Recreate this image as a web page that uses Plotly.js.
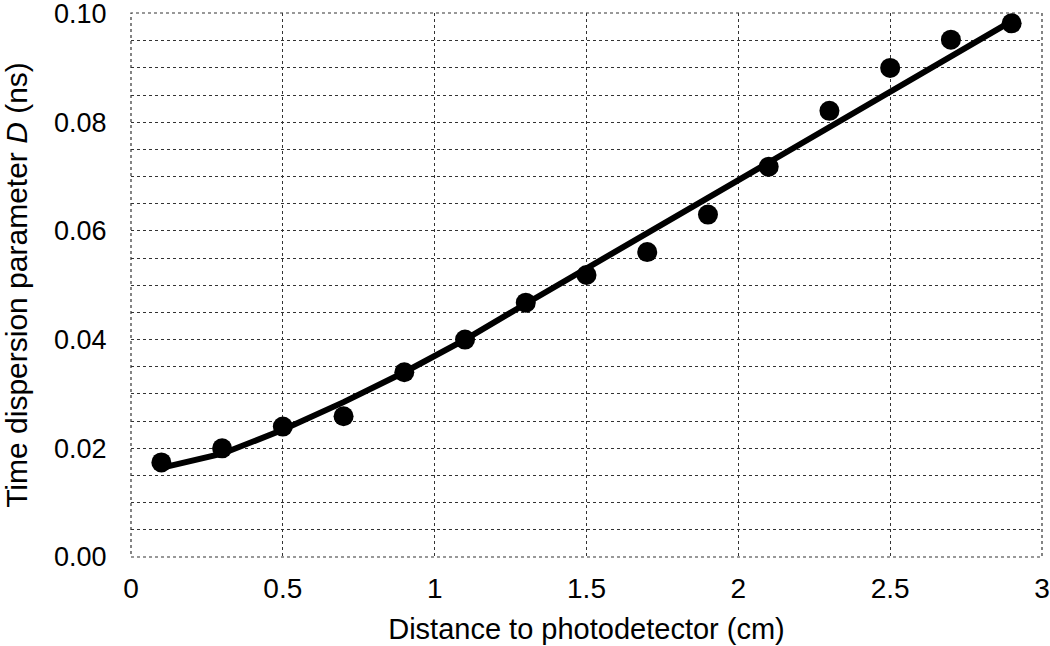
<!DOCTYPE html>
<html>
<head>
<meta charset="utf-8">
<script src="https://cdn.plot.ly/plotly-3.0.1.min.js"></script>
<style>
  body { margin: 0; background: #fff; }
  #plot { width: 1050px; height: 646px; }
</style>
</head>
<body>
<div id="plot"></div>
<script>
// measured points: distance (cm) vs time dispersion D (ns)
var dist = [0.1, 0.3, 0.5, 0.7, 0.9, 1.1, 1.3, 1.5, 1.7, 1.9, 2.1, 2.3, 2.5, 2.7, 2.9];
var dMeas = [0.0174, 0.0200, 0.0240, 0.0259, 0.0340, 0.0400, 0.0468, 0.0519, 0.0561, 0.0630, 0.0718, 0.0821, 0.0900, 0.0952, 0.0982];

// fitted curve at the same distances
var dFit = [0.0164, 0.0190, 0.0234, 0.0285, 0.0340, 0.0400, 0.0466, 0.0531, 0.0595, 0.0659, 0.0724, 0.0789, 0.0855, 0.0920, 0.0986];

var xTicks = [0, 0.5, 1, 1.5, 2, 2.5, 3];
var xTickText = ["0", "0.5", "1", "1.5", "2", "2.5", "3"];
var yTicks = [0, 0.02, 0.04, 0.06, 0.08, 0.1];
var yTickText = ["0.00", "0.02", "0.04", "0.06", "0.08", "0.10"];

var font = "Liberation Sans, Arial, Helvetica, sans-serif";

var fit = {
  x: dist, y: dFit, mode: "lines",
  line: {color: "#000", width: 6},
  hoverinfo: "none"
};
var meas = {
  x: dist, y: dMeas, mode: "markers",
  marker: {color: "#000", size: 20},
  hoverinfo: "none"
};

var layout = {
  width: 1050, height: 646,
  margin: {l: 131, r: 8, t: 13, b: 89},
  paper_bgcolor: "#fff", plot_bgcolor: "#fff",
  showlegend: false,
  font: {family: font, size: 27, color: "#000"},
  xaxis: {
    range: [0, 3],
    tickvals: xTicks, ticktext: xTickText,
    showgrid: true, gridcolor: "#333", griddash: "dot", gridwidth: 1,
    zeroline: false, showline: false,
    ticks: "outside", ticklen: 0, ticklabelstandoff: 6,
    tickfont: {size: 28},
    title: {text: "Distance to photodetector (cm)", font: {size: 29}, standoff: 16}
  },
  yaxis: {
    range: [0, 0.1001],
    tickvals: yTicks, ticktext: yTickText,
    ticklabeloverflow: "allow",
    showgrid: true, gridcolor: "#333", griddash: "dot", gridwidth: 1,
    minor: {dtick: 0.005, showgrid: true, gridcolor: "#333", griddash: "dot", gridwidth: 1},
    zeroline: false, showline: false,
    ticks: "outside", ticklen: 0, ticklabelstandoff: 18,
    tickfont: {size: 27},
    title: {text: "Time dispersion parameter <i>D</i> (ns)", font: {size: 30}, standoff: 22}
  },
  shapes: [{
    type: "rect", xref: "paper", yref: "paper", x0: 0, x1: 1, y0: 0, y1: 1,
    line: {color: "#333", width: 1.2, dash: "dot"}, layer: "below"
  }]
};

Plotly.newPlot("plot", [fit, meas], layout, {displayModeBar: false, staticPlot: true});
</script>
</body>
</html>
